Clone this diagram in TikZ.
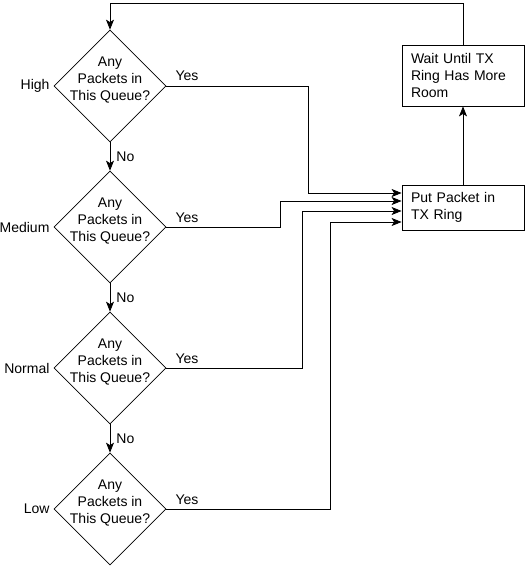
\documentclass[tikz,border=0pt]{standalone}
\usepackage{fontspec}
\setmainfont{Liberation Sans}
\usetikzlibrary{shapes.geometric,arrows.meta}
\begin{document}
\begin{tikzpicture}[x=1pt,y=1pt,
  every node/.style={font=\fontsize{14}{17}\selectfont},
  dia/.style={draw, diamond, line width=0.7pt, minimum width=112pt, minimum height=112pt, inner sep=0pt},
  qtext/.style={align=center, inner sep=0pt},
  procbox/.style={draw, line width=0.8pt, align=left, text width=104pt, inner xsep=9pt, inner ysep=0pt},
  lbl/.style={inner sep=0pt},
  arr/.style={line width=0.8pt, -{Stealth[length=10pt,width=8pt,inset=2.5pt]}},
  ln/.style={line width=0.8pt}
]
\useasboundingbox (0,0) rectangle (528,-569);
% diamonds
\node[dia] (d1) at (110,-86) {};
\node[dia] (d2) at (110,-227) {};
\node[dia] (d3) at (110,-368) {};
\node[dia] (d4) at (110,-509) {};
\foreach \i in {1,2,3,4}{
  \node[qtext] (t\i) at ([yshift=6pt]d\i.center) {Any\\Packets in\\This Queue?};
}
% priority labels
\node[lbl, anchor=east] (l1) at ([xshift=-4pt]d1.west) {High};
\node[lbl, anchor=east] (l2) at ([xshift=-4pt]d2.west) {Medium};
\node[lbl, anchor=east] (l3) at ([xshift=-4pt]d3.west) {Normal};
\node[lbl, anchor=east] (l4) at ([xshift=-4pt]d4.west) {Low};
% yes labels
\foreach \i in {1,2,3,4}{
  \node[lbl, anchor=base west] (y\i) at ([xshift=9pt,yshift=5pt]d\i.east) {Yes};
}
% boxes
\node[procbox, minimum height=45pt] (put) at (463,-207.5) {Put Packet in\\TX Ring};
\node[procbox, minimum height=61pt] (wait) at (463,-75.5) {Wait Until TX\\Ring Has More\\Room};
% No arrows
\draw[arr] (d1.south) -- (d2.north) node[midway, right, lbl, xshift=6pt] (n1) {No};
\draw[arr] (d2.south) -- (d3.north) node[midway, right, lbl, xshift=6pt] (n2) {No};
\draw[arr] (d3.south) -- (d4.north) node[midway, right, lbl, xshift=6pt] (n3) {No};
% bend coordinates
\coordinate (b1) at (308,-193);
\coordinate (b2) at (280,-201);
\coordinate (b3) at (302,-211);
\coordinate (b4) at (330,-222);
\draw[arr] (d1.east) -| (b1) -- (b1 -| put.west);
\draw[arr] (d2.east) -| (b2) -- (b2 -| put.west);
\draw[arr] (d3.east) -| (b3) -- (b3 -| put.west);
\draw[arr] (d4.east) -| (b4) -- (b4 -| put.west);
% put -> wait
\draw[arr] (put.north) -- (wait.south);
% loop back
\coordinate (top) at (463,-3);
\draw[arr] (wait.north) -- (top) -| (d1.north);
\end{tikzpicture}
\end{document}
